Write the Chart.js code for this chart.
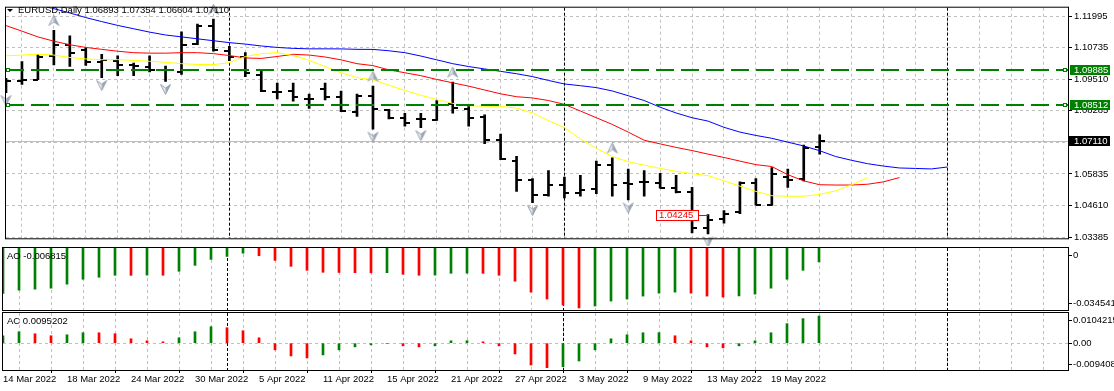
<!DOCTYPE html>
<html>
<head>
<meta charset="utf-8">
<script src="https://cdn.jsdelivr.net/npm/chart.js@4.4.1/dist/chart.umd.min.js"></script>
<style>
  body { margin: 0; background: #fff; }
  #wrap { position: relative; width: 1114px; height: 391px; background: #fff; overflow: hidden; }
  canvas { position: absolute; left: 0; }
</style>
</head>
<body>
<div id="wrap">
  <canvas id="main" width="1114" height="246" style="top:0"></canvas>
  <canvas id="ao" width="1114" height="65" style="top:246px"></canvas>
  <canvas id="ac" width="1114" height="80" style="top:311px"></canvas>
</div>
<script>
// EURUSD daily, one bar per trading day from 14 Mar 2022
const symbol = 'EURUSD,Daily';
const dateLabels = ['14 Mar 2022', '18 Mar 2022', '24 Mar 2022', '30 Mar 2022', '5 Apr 2022', '11 Apr 2022',
  '15 Apr 2022', '21 Apr 2022', '27 Apr 2022', '3 May 2022', '9 May 2022', '13 May 2022', '19 May 2022'];

const opens = [1.09350, 1.09424, 1.09490, 1.10390, 1.10846, 1.10661, 1.10193, 1.10230, 1.10044, 1.09981,
  1.09859, 1.09796, 1.10883, 1.11566, 1.10601, 1.10352, 1.09673, 1.09027, 1.09053, 1.08745,
  1.09116, 1.08804, 1.08248, 1.08868, 1.08311, 1.08014, 1.07966, 1.07940, 1.08533, 1.08337,
  1.08040, 1.07134, 1.06354, 1.05612, 1.05007, 1.05415, 1.05093, 1.05241, 1.06184, 1.05464,
  1.05527, 1.05464, 1.05278, 1.05118, 1.03734, 1.04105, 1.04350, 1.05464, 1.04625, 1.05712,
  1.05649, 1.06893];
const highs = [1.09547, 1.10193, 1.10475, 1.11403, 1.11195, 1.10724, 1.10475, 1.10416, 1.10130, 1.10416,
  1.10018, 1.11343, 1.11652, 1.11837, 1.10787, 1.10538, 1.09859, 1.09361, 1.09361, 1.08931,
  1.09361, 1.09053, 1.08931, 1.09239, 1.08337, 1.08188, 1.08188, 1.08682, 1.09398, 1.08496,
  1.08125, 1.07383, 1.06518, 1.05649, 1.05961, 1.05712, 1.05776, 1.06332, 1.06455, 1.06021,
  1.05961, 1.05861, 1.05776, 1.05315, 1.04254, 1.04413, 1.05527, 1.05649, 1.06084, 1.06021,
  1.06949, 1.07354];
const lows = [1.08990, 1.09302, 1.09487, 1.10067, 1.10007, 1.10044, 1.09573, 1.09647, 1.09647, 1.09796,
  1.09424, 1.09695, 1.10846, 1.10601, 1.10230, 1.09610, 1.09027, 1.08745, 1.08656, 1.08374,
  1.08708, 1.08248, 1.08062, 1.07568, 1.07966, 1.07691, 1.07632, 1.07914, 1.08188, 1.07691,
  1.07012, 1.06392, 1.05156, 1.04721, 1.04970, 1.04907, 1.04970, 1.05070, 1.04970, 1.04822,
  1.04970, 1.05278, 1.05093, 1.03548, 1.03511, 1.03920, 1.04291, 1.04625, 1.04615, 1.05315,
  1.05564, 1.06604];
const closes = [1.09424, 1.09487, 1.10352, 1.10846, 1.10512, 1.10167, 1.10267, 1.10067, 1.10030, 1.09859,
  1.09850, 1.10846, 1.11566, 1.10638, 1.10352, 1.09733, 1.09053, 1.09020, 1.08804, 1.08760,
  1.08804, 1.08285, 1.08868, 1.08337, 1.08003, 1.07828, 1.07950, 1.08496, 1.08374, 1.08003,
  1.07134, 1.06400, 1.05612, 1.05033, 1.05404, 1.05093, 1.05219, 1.06184, 1.05404, 1.05450,
  1.05540, 1.05290, 1.05118, 1.03734, 1.04042, 1.04291, 1.05464, 1.04635, 1.05835, 1.05612,
  1.06826, 1.07110];

// Alligator lines (shifted forward past the last bar)
const jaw = [1.12839, 1.12617, 1.12431, 1.12246, 1.12078, 1.11900, 1.11744, 1.11596, 1.11466, 1.11336,
  1.11225, 1.11151, 1.11076, 1.11002, 1.10928, 1.10872, 1.10798, 1.10742, 1.10705, 1.10687,
  1.10687, 1.10685, 1.10668, 1.10665, 1.10612, 1.10538, 1.10408, 1.10260, 1.10111, 1.10000,
  1.09907, 1.09814, 1.09721, 1.09610, 1.09461, 1.09324, 1.09257, 1.09183, 1.09053, 1.08868,
  1.08682, 1.08422, 1.08199, 1.08014, 1.07884, 1.07643, 1.07457, 1.07327, 1.07216, 1.07067,
  1.06919, 1.06733, 1.06510, 1.06362, 1.06232, 1.06139, 1.06065, 1.06047, 1.06028, 1.06102];
const teeth = [1.11589, 1.11373, 1.11151, 1.10983, 1.10846, 1.10742, 1.10668, 1.10594, 1.10538, 1.10519,
  1.10519, 1.10538, 1.10538, 1.10501, 1.10427, 1.10334, 1.10315, 1.10390, 1.10475, 1.10445,
  1.10371, 1.10260, 1.10111, 1.10037, 1.09870, 1.09759, 1.09647, 1.09499, 1.09369, 1.09239,
  1.09090, 1.08942, 1.08830, 1.08782, 1.08682, 1.08533, 1.08274, 1.08014, 1.07754, 1.07457,
  1.07142, 1.07000, 1.06863, 1.06741, 1.06603, 1.06473, 1.06332, 1.06195, 1.06121, 1.05805,
  1.05564, 1.05415, 1.05404, 1.05404, 1.05434, 1.05527, 1.05694];
const lips = [1.10416, 1.10445, 1.10475, 1.10445, 1.10352, 1.10297, 1.10267, 1.10267, 1.10241, 1.10204,
  1.10167, 1.10111, 1.10081, 1.10074, 1.10148, 1.10390, 1.10501, 1.10538, 1.10427, 1.10241,
  1.10000, 1.09759, 1.09573, 1.09487, 1.09276, 1.09072, 1.08886, 1.08719, 1.08571, 1.08478,
  1.08459, 1.08459, 1.08385, 1.08199, 1.07903, 1.07624, 1.07197, 1.06826, 1.06510, 1.06306,
  1.06176, 1.06047, 1.05935, 1.05842, 1.05768, 1.05564, 1.05360, 1.05156, 1.04990, 1.04970,
  1.04970, 1.05044, 1.05174, 1.05415, 1.05686];

const ao = [-0.02616, -0.02427, -0.02370, -0.02313, -0.02084, -0.01799, -0.01685, -0.01570, -0.01575, -0.01560,
  -0.01570, -0.01342, -0.00999, -0.00657, -0.00485, -0.00297, -0.00446, -0.00714, -0.01056, -0.01285,
  -0.01399, -0.01410, -0.01420, -0.01430, -0.01420, -0.01513, -0.01570, -0.01560, -0.01456, -0.01450,
  -0.01460, -0.01570, -0.01913, -0.02541, -0.02940, -0.03283, -0.034541, -0.03340, -0.03055, -0.02940,
  -0.02769, -0.02598, -0.02541, -0.02598, -0.02769, -0.02826, -0.02760, -0.02655, -0.02313, -0.01799,
  -0.01285, -0.00800];
const ac = [0.00284, 0.00438, 0.00361, 0.00284, 0.00322, 0.00400, 0.00398, 0.00361, 0.00168, 0.00090,
  0.00052, 0.00206, 0.00438, 0.00632, 0.00593, 0.00477, 0.00206, -0.00258, -0.00490, -0.00567,
  -0.00451, -0.00258, -0.00142, -0.00064, -0.00020, -0.00103, -0.00142, -0.00103, 0.00090, 0.00095,
  0.00052, -0.00103, -0.00412, -0.00838, -0.009408, -0.00902, -0.00683, -0.00258, 0.00168, 0.00322,
  0.00400, 0.00405, 0.00284, 0.00090, -0.00142, -0.00180, -0.00103, 0.00090, 0.00400, 0.00748,
  0.00941, 0.0104215];
const aoLabel = 'AO -0.006815';
const acLabel = 'AC 0.0095202';

const fractalUp = [3, 13, 23, 28, 38];
const fractalDown = [0, 6, 10, 23, 26, 33, 39, 44];
const levels = [1.09885, 1.08512];
const separators = [14, 35, 59];
const markBar = 44;
const markPrice = 1.04245;

const priceTicks = [1.11960, 1.10735, 1.09510, 1.08285, 1.07060, 1.05835, 1.04610, 1.03385];
const priceTickLabels = ['1.11995', '1.10735', '1.09510', '1.08285', '', '1.05835', '1.04610', '1.03385'];
const aoTicks = [0, -0.034541];
const aoTickLabels = ['0', '-0.034541'];
const acTicks = [0.0104215, 0, -0.009408];
const acTickLabels = ['0.0104215', '0.00', '-0.009408'];

// layout
const X_MAX = 66.5625;
const FAMILY = '"Liberation Sans", Arial, sans-serif';
const FONT = { family: FAMILY, size: 9.5 };
const GREEN = '#008000';
const RED = '#ff0000';
const last = closes.length - 1;

function tickImg(left) {
  const c = document.createElement('canvas');
  c.width = 10; c.height = 2;
  const g = c.getContext('2d');
  g.fillStyle = '#000';
  g.fillRect(left ? 0 : 5, 0, 5, 2);
  return c;
}

function arrowImg(up) {
  const c = document.createElement('canvas');
  c.width = 13; c.height = 31;
  const g = c.getContext('2d');
  const s = up ? 1 : -1;
  const cx = 6.5, cy = up ? 5.5 : 23.5;
  const tip = [cx, cy - 5 * s], notch = [cx, cy + 1.5 * s];
  g.fillStyle = '#e6eaf0';
  g.beginPath(); g.moveTo(...tip); g.lineTo(cx - 5, cy + 5 * s); g.lineTo(...notch); g.closePath(); g.fill();
  g.fillStyle = '#a0a8b2';
  g.beginPath(); g.moveTo(...tip); g.lineTo(cx + 5, cy + 5 * s); g.lineTo(...notch); g.closePath(); g.fill();
  g.strokeStyle = '#8894a2'; g.lineWidth = 0.8;
  g.beginPath(); g.moveTo(...tip); g.lineTo(cx - 5, cy + 5 * s); g.lineTo(...notch);
  g.lineTo(cx + 5, cy + 5 * s); g.closePath(); g.stroke();
  return c;
}

function xAxis(showDates) {
  return {
    type: 'linear', min: 0, max: X_MAX, offset: false,
    afterBuildTicks: s => { const t = []; for (let i = 0; i <= 66; i += 2) t.push({ value: i }); s.ticks = t; },
    afterFit: s => { s.height = showDates ? 21 : 0; },
    grid: {
      color: c => (c.tick && c.tick.value === 0) ? 'rgba(0,0,0,0)' : '#c0c0c0',
      drawTicks: showDates, tickLength: 3, tickBorderDash: [],
      tickColor: c => (c.tick && c.tick.value % 4 === 0 && dateLabels[c.tick.value / 4]) ? '#000' : 'rgba(0,0,0,0)'
    },
    border: { display: false, dash: [3, 3] },
    ticks: {
      display: showDates, autoSkip: false, maxRotation: 0, minRotation: 0, align: 'start',
      padding: 1, color: '#000', font: FONT,
      callback: v => (v % 4 === 0 && dateLabels[v / 4]) || ''
    }
  };
}

const chrome = {
  id: 'chrome',
  beforeDatasetsDraw(chart, args, o) {
    const { ctx, chartArea: ar, scales: { x, y } } = chart;
    ctx.save();
    ctx.lineWidth = 1;
    if (o.bid != null) {
      const py = Math.round(y.getPixelForValue(o.bid)) + 0.5;
      ctx.strokeStyle = '#c0c0c0';
      ctx.beginPath(); ctx.moveTo(ar.left, py); ctx.lineTo(ar.right, py); ctx.stroke();
    }
    ctx.strokeStyle = '#000';
    ctx.setLineDash([3, 2]);
    separators.forEach(b => {
      const px = Math.round(x.getPixelForValue(b)) + 0.5;
      ctx.beginPath(); ctx.moveTo(px, ar.top); ctx.lineTo(px, ar.bottom); ctx.stroke();
    });
    ctx.restore();
  },
  afterDatasetsDraw(chart, args, o) {
    const { ctx, chartArea: ar, scales: { x, y } } = chart;
    ctx.save();
    (o.levels || []).forEach(v => {
      const py = Math.round(y.getPixelForValue(v));
      ctx.strokeStyle = GREEN; ctx.lineWidth = 2; ctx.setLineDash([18, 7]);
      ctx.beginPath(); ctx.moveTo(ar.left, py); ctx.lineTo(ar.right, py); ctx.stroke();
      ctx.setLineDash([]); ctx.lineWidth = 1; ctx.fillStyle = '#fff';
      [ar.left, ar.right - 5].forEach(sx => {
        ctx.fillRect(sx, py - 2, 4, 4);
        ctx.strokeRect(sx + 0.5, py - 1.5, 3, 3);
      });
    });
    if (o.mark) {
      const px = Math.round(x.getPixelForValue(o.mark.bar));
      const py = Math.round(y.getPixelForValue(o.mark.price));
      ctx.strokeStyle = RED; ctx.lineWidth = 1;
      ctx.beginPath(); ctx.moveTo(px - 10, py + 0.5); ctx.lineTo(px, py + 0.5); ctx.stroke();
      ctx.fillStyle = '#fff';
      ctx.fillRect(px - 52, py - 5, 42, 11);
      ctx.strokeRect(px - 51.5, py - 4.5, 42, 10);
      ctx.fillStyle = RED; ctx.font = `9.5px ${FAMILY}`;
      ctx.textBaseline = 'middle'; ctx.textAlign = 'left';
      ctx.fillText(o.mark.price.toFixed(5), px - 49, py + 0.5);
    }
    ctx.restore();
  },
  afterDraw(chart, args, o) {
    const { ctx, chartArea: ar, scales: { y } } = chart;
    ctx.save();
    ctx.font = `9.5px ${FAMILY}`;
    ctx.textBaseline = 'middle'; ctx.textAlign = 'left';
    ctx.strokeStyle = '#000'; ctx.lineWidth = 1;
    ctx.strokeRect(ar.left - 0.5, ar.top - 0.5, ar.right - ar.left + 1, ar.bottom - ar.top + 1);
    if (o.side) {
      o.side.forEach(s => {
        const py = y.getPixelForValue(s.value) + s.dy;
        ctx.beginPath(); ctx.moveTo(ar.right, Math.round(py) + 0.5); ctx.lineTo(ar.right + 4, Math.round(py) + 0.5); ctx.stroke();
        ctx.fillStyle = '#000';
        ctx.fillText(s.text, ar.right + 5, py);
      });
    }
    if (o.label) {
      ctx.fillStyle = '#000';
      ctx.fillText(o.label, 7, ar.top + 8.5);
    }
    (o.levels || []).forEach(v => {
      const py = Math.round(y.getPixelForValue(v));
      ctx.fillStyle = GREEN;
      ctx.fillRect(ar.right + 2, py - 5, 40, 10);
      ctx.fillStyle = '#fff';
      ctx.fillText(v.toFixed(5), ar.right + 6, py);
    });
    if (o.bid != null) {
      const py = Math.round(y.getPixelForValue(o.bid));
      ctx.fillStyle = '#000';
      ctx.fillRect(ar.right, py - 5, 42, 10);
      ctx.fillStyle = '#fff';
      ctx.fillText(o.bid.toFixed(5), ar.right + 6, py);
    }
    if (o.title) {
      ctx.fillStyle = '#000';
      ctx.beginPath(); ctx.moveTo(7, 9); ctx.lineTo(13, 9); ctx.lineTo(10, 12); ctx.closePath(); ctx.fill();
      ctx.fillText(o.title, 18, 10.5);
    }
    ctx.restore();
  }
};

const base = {
  responsive: false, animation: false, events: [], devicePixelRatio: 1
};
const noPlug = { legend: { display: false }, tooltip: { enabled: false } };
const idx = closes.map((_, i) => i);
const pts = arr => arr.map((v, i) => ({ x: i, y: v }));
const upDown = arr => arr.map((v, i) => (i === 0 || v > arr[i - 1]) ? GREEN : RED);

const title = symbol + ' ' + [opens, highs, lows, closes].map(a => a[last].toFixed(5)).join(' ');

new Chart(document.getElementById('main'), {
  type: 'line',
  data: {
    datasets: [
      { type: 'scatter', data: fractalUp.map(i => ({ x: i, y: highs[i] })), pointStyle: arrowImg(true), pointRadius: 5, clip: false },
      { type: 'scatter', data: fractalDown.map(i => ({ x: i, y: lows[i] })), pointStyle: arrowImg(false), pointRadius: 5, clip: false },
      { type: 'line', data: pts(lips), borderColor: '#ffff00', borderWidth: 1, pointRadius: 0, tension: 0 },
      { type: 'line', data: pts(teeth), borderColor: RED, borderWidth: 1, pointRadius: 0, tension: 0 },
      { type: 'line', data: pts(jaw), borderColor: '#0000ff', borderWidth: 1, pointRadius: 0, tension: 0 },
      { type: 'scatter', data: pts(opens), pointStyle: tickImg(true), pointRadius: 3 },
      { type: 'scatter', data: pts(closes), pointStyle: tickImg(false), pointRadius: 3 },
      { type: 'bar', data: idx.map(i => ({ x: i, y: [lows[i], highs[i]] })), backgroundColor: '#000', borderWidth: 0, barThickness: 2 }
    ]
  },
  options: {
    ...base,
    layout: { padding: { left: 3, right: 0, top: 3, bottom: 2 } },
    scales: {
      x: xAxis(false),
      y: {
        type: 'linear', position: 'right', min: 1.03337, max: 1.12283,
        afterBuildTicks: s => { s.ticks = priceTicks.map(v => ({ value: v })); },
        afterFit: s => { s.width = 46; },
        grid: { color: '#c0c0c0', tickColor: '#000', tickLength: 4, tickBorderDash: [] },
        border: { display: false, dash: [3, 3] },
        ticks: { autoSkip: false, padding: 2, color: '#000', font: FONT, callback: (v, i) => priceTickLabels[i] }
      }
    },
    plugins: {
      ...noPlug,
      chrome: { bid: closes[last], levels: levels, mark: { bar: markBar, price: markPrice }, title: title }
    }
  },
  plugins: [chrome]
});

function subPanel(id, values, yMin, yMax, ticks, tickLabels, tickDy, label, zeroGrid, showDates, pad) {
  return new Chart(document.getElementById(id), {
    type: 'line',
    data: {
      datasets: [
        { type: 'bar', data: values.map((v, i) => ({ x: i, y: [0, v] })), backgroundColor: upDown(values), borderWidth: 0, barThickness: 2 }
      ]
    },
    options: {
      ...base,
      layout: { padding: pad },
      scales: {
        x: xAxis(showDates),
        y: {
          type: 'linear', position: 'right', min: yMin, max: yMax,
          afterBuildTicks: s => { s.ticks = [{ value: 0 }]; },
          afterFit: s => { s.width = 46; },
          grid: { display: zeroGrid, color: '#c0c0c0', drawTicks: false },
          border: { display: false, dash: [3, 3] },
          ticks: { display: false }
        }
      },
      plugins: {
        ...noPlug,
        chrome: { label: label, side: ticks.map((v, i) => ({ value: v, text: tickLabels[i], dy: tickDy[i] })) }
      }
    },
    plugins: [chrome]
  });
}

subPanel('ao', ao, -0.0357, 0, aoTicks, aoTickLabels, [7, -4.7], aoLabel, false, false,
  { left: 3, right: 0, top: 2, bottom: 1 });
subPanel('ac', ac, -0.01029, 0.01157, acTicks, acTickLabels, [4, 0, -3.7], acLabel, true, true,
  { left: 3, right: 0, top: 2, bottom: 0 });
</script>
</body>
</html>
